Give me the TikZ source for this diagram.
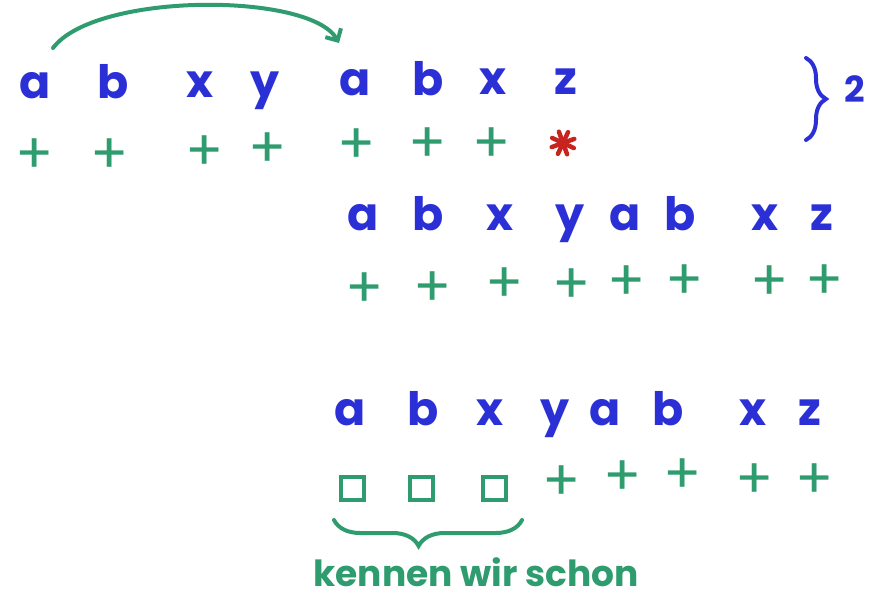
\documentclass[tikz,border=0pt]{standalone}
\usepackage{fontspec}
\setmainfont{Poppins}
\usetikzlibrary{arrows.meta, positioning, calc, decorations.pathreplacing}
\definecolor{MarkerBlue}{rgb}{0.17, 0.19, 0.84}
\definecolor{MarkerGreen}{rgb}{0.18, 0.61, 0.43}
\definecolor{MarkerRed}{rgb}{0.78, 0.14, 0.12}
\tikzset{
    letter/.style={font=\fontsize{46}{46}\selectfont\bfseries, text=MarkerBlue, inner sep=0pt, anchor=base},
    ok/.style={font=\fontsize{56}{56}\selectfont, text=MarkerGreen, inner sep=0pt},
    known/.style={draw=MarkerGreen, line width=4pt, minimum size=23pt, inner sep=0pt},
    miss/.style={minimum size=32pt, inner sep=0pt, path picture={
        \foreach \a in {20,65,110,155}
            \draw[MarkerRed, line width=4.5pt, line cap=round]
                ($(path picture bounding box.center)+(\a:12pt)$) -- ($(path picture bounding box.center)+(\a+180:12pt)$);
    }},
    marker/.style={line width=4pt, line cap=round}
}

\begin{document}
\begin{tikzpicture}[x=1pt, y=-1pt]
\useasboundingbox (0,0) rectangle (879,615);

% erste Zeile
\foreach \x/\y/\t/\n in {35/99/a/1, 113/99/b/2, 200/98/x/3, 265/98/y/4,
    355/96/a/5, 428/96/b/6, 493/95/x/7, 566/95/z/8}
    \node[letter] (t\n) at (\x,\y) {\t};
\foreach \x/\y/\n in {35/156/1, 110/156/2, 205/153/3, 268/150/4,
    357/146/5, 428/145/6, 492/145/7}
    \node[ok] (tp\n) at (\x,\y) {+};
\node[miss] (tp8) at (563,143) {};

% Sprung a -> a
\draw[marker, MarkerGreen, -{Straight Barb[length=9pt, width=18pt]}]
    ([shift={(18,-51)}]t1.base) .. controls +(42,-56) and +(-29,-51) .. ([shift={(-16,-53)}]t5.base);

% Klammer rechts
\coordinate (kTop) at (806,58);
\coordinate (kBot) at (806,140);
\draw[marker, MarkerBlue, decorate, decoration={brace, amplitude=20pt}] (kTop) -- (kBot);
\node[font=\fontsize{36}{36}\selectfont\bfseries, text=MarkerBlue, inner sep=0pt, anchor=base] (rep) at (855,103) {2};

% zweite Zeile
\foreach \x/\t/\n in {363/a/1, 428/b/2, 500/x/3, 570/y/4,
    625/a/5, 680/b/6, 765/x/7, 822/z/8}
    \node[letter] (m\n) at (\x,230) {\t};
\foreach \x/\y/\n in {365/290/1, 433/289/2, 505/285/3, 572/286/4,
    627/283/5, 685/282/6, 770/283/7, 825/282/8}
    \node[ok] (mp\n) at (\x,\y) {+};

% dritte Zeile
\foreach \x/\t/\n in {350/a/1, 423/b/2, 490/x/3, 555/y/4,
    605/a/5, 668/b/6, 753/x/7, 810/z/8}
    \node[letter] (b\n) at (\x,425) {\t};
\foreach \x/\n in {352/1, 421/2, 494/3}
    \node[known] (bp\n) at (\x,488) {};
\foreach \x/\y/\n in {562/483/4, 623/478/5, 683/476/6, 755/481/7, 815/481/8}
    \node[ok] (bp\n) at (\x,\y) {+};

% schon bekannt
\coordinate (uL) at (334,520);
\coordinate (uR) at (522,520);
\draw[marker, MarkerGreen, decorate, decoration={brace, amplitude=26pt, aspect=0.45, mirror}] (uL) -- (uR);
\node[font=\fontsize{36}{36}\selectfont\bfseries, text=MarkerGreen, inner sep=0pt, anchor=base] (hint) at (476,586) {kennen wir schon};

\end{tikzpicture}
\end{document}
